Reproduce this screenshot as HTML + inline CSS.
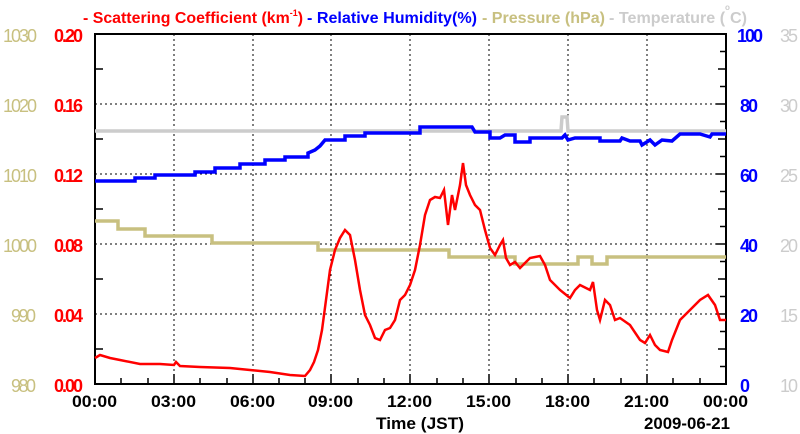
<!DOCTYPE html>
<html><head><meta charset="utf-8"><style>
body{margin:0;background:#fff;}
svg{display:block;font-family:"Liberation Sans",sans-serif;font-weight:bold;}
</style></head><body>
<svg width="800" height="434" viewBox="0 0 800 434" xmlns="http://www.w3.org/2000/svg">
<g stroke="#000" stroke-dasharray="2,3" stroke-width="1">
<line x1="174" y1="34" x2="174" y2="384"/><line x1="253" y1="34" x2="253" y2="384"/><line x1="331" y1="34" x2="331" y2="384"/><line x1="410" y1="34" x2="410" y2="384"/><line x1="489" y1="34" x2="489" y2="384"/><line x1="568" y1="34" x2="568" y2="384"/><line x1="647" y1="34" x2="647" y2="384"/>
<line x1="95" y1="104" x2="726" y2="104"/><line x1="95" y1="174" x2="726" y2="174"/><line x1="95" y1="244" x2="726" y2="244"/><line x1="95" y1="314" x2="726" y2="314"/>
</g>
<g stroke="#000" stroke-width="1.5" fill="none">
<path d="M95,69h8M95,139h8M95,209h8M95,279h8M95,349h8M726,69h-8M726,139h-8M726,209h-8M726,279h-8M726,349h-8"/>
<path d="M726,51.5h-6M726,86.5h-6M726,121.5h-6M726,156.5h-6M726,191.5h-6M726,226.5h-6M726,261.5h-6M726,296.5h-6M726,331.5h-6M726,366.5h-6M726,104h-10M726,174h-10M726,244h-10M726,314h-10"/>
<path d="M121,384v-6M148,384v-6M200,384v-6M227,384v-6M279,384v-6M305,384v-6M358,384v-6M384,384v-6M437,384v-6M463,384v-6M516,384v-6M542,384v-6M594,384v-6M621,384v-6M673,384v-6M700,384v-6M174,384v-10M253,384v-10M331,384v-10M410,384v-10M489,384v-10M568,384v-10M647,384v-10"/>
</g>
<rect x="95" y="34" width="631" height="350" fill="none" stroke="#000" stroke-width="2"/>
<polyline fill="none" stroke="#cccccc" stroke-width="3.5" points="95,131 561,131 562,117 567,117 568,131 726,131"/>
<polyline fill="none" stroke="#c8c080" stroke-width="3.5" points="95,221 118,221 118,229 145,229 145,236 212,236 212,243 318,243 318,250 449,250 449,257 515,257 515,264 578,264 578,257 592,257 592,264 607,264 607,257 726,257"/>
<polyline fill="none" stroke="#0000ff" stroke-width="3.5" points="95,181 135,181 135,178 155,178 155,175 195,175 195,172 215,172 215,168 240,168 240,164 265,164 265,160 285,160 285,157 308,157 308,153 315,150 320,146 325,140 345,140 345,136 365,136 365,133 420,133 420,127 472,127 475,132 490,132 490,138 500,138 505,135 515,135 515,142 530,142 530,138 562,138 565,135 568,140 575,138 600,138 600,141 620,141 622,138 630,141 640,141 642,145 650,140 655,145 662,140 672,141 680,134 700,134 710,137 712,134 726,134"/>
<polyline fill="none" stroke="#ff0000" stroke-width="2.5" points="95,358 100,355 110,358 120,360 140,364 160,364 174,365 176,362 180,366 200,367 230,368 250,370 270,372 290,375 305,376 310,370 314,362 318,350 322,330 326,300 330,270 335,250 340,238 345,230 350,235 355,260 360,290 365,315 370,325 375,338 380,340 385,330 390,328 395,320 400,300 405,295 410,285 415,270 420,245 425,215 430,200 435,197 440,198 444,190 448,225 452,195 455,210 460,185 463,163 466,185 470,195 475,205 480,210 485,230 490,248 495,255 500,245 503,240 506,258 510,265 515,262 520,268 530,258 540,256 545,265 550,280 560,290 570,298 575,290 580,285 590,290 593,282 597,310 600,320 605,300 610,305 615,320 620,318 630,325 640,340 645,343 650,335 655,345 660,350 668,352 672,340 680,320 690,310 700,300 708,295 715,305 720,320 726,320"/>
<g font-size="18" lengthAdjust="spacingAndGlyphs">
<g fill="#c8c080" font-weight="normal"><text x="3" y="42" textLength="34">1030</text><text x="3" y="112" textLength="34">1020</text><text x="3" y="182" textLength="34">1010</text><text x="3" y="252" textLength="34">1000</text><text x="11" y="322" textLength="25">990</text><text x="11" y="392" textLength="25">980</text></g>
<g fill="#ff0000"><text x="54" y="42" textLength="29">0.20</text><text x="54" y="112" textLength="29">0.16</text><text x="54" y="182" textLength="29">0.12</text><text x="54" y="252" textLength="29">0.08</text><text x="54" y="322" textLength="29">0.04</text><text x="54" y="392" textLength="29">0.00</text></g>
<g fill="#0000ff"><text x="737" y="42" textLength="26">100</text><text x="740" y="112" textLength="18">80</text><text x="740" y="182" textLength="18">60</text><text x="740" y="252" textLength="18">40</text><text x="740" y="322" textLength="18">20</text><text x="740" y="392" textLength="9">0</text></g>
<g fill="#cccccc" font-weight="normal"><text x="780" y="42" textLength="18">35</text><text x="780" y="112" textLength="18">30</text><text x="780" y="182" textLength="18">25</text><text x="780" y="252" textLength="18">20</text><text x="780" y="322" textLength="18">15</text><text x="780" y="392" textLength="18">10</text></g>
</g>
<g font-size="17" fill="#000">
<text x="72" y="407" textLength="45" lengthAdjust="spacingAndGlyphs">00:00</text>
<text x="151" y="407" textLength="45" lengthAdjust="spacingAndGlyphs">03:00</text>
<text x="230" y="407" textLength="45" lengthAdjust="spacingAndGlyphs">06:00</text>
<text x="308" y="407" textLength="45" lengthAdjust="spacingAndGlyphs">09:00</text>
<text x="387" y="407" textLength="45" lengthAdjust="spacingAndGlyphs">12:00</text>
<text x="466" y="407" textLength="45" lengthAdjust="spacingAndGlyphs">15:00</text>
<text x="545" y="407" textLength="45" lengthAdjust="spacingAndGlyphs">18:00</text>
<text x="624" y="407" textLength="45" lengthAdjust="spacingAndGlyphs">21:00</text>
<text x="703" y="407" textLength="45" lengthAdjust="spacingAndGlyphs">00:00</text>
<text x="376" y="429" textLength="88" lengthAdjust="spacingAndGlyphs">Time (JST)</text>
<text x="644" y="429" textLength="86" lengthAdjust="spacingAndGlyphs">2009-06-21</text>
</g>
<g font-size="16">
<text x="83" y="23" fill="#ff0000" textLength="220" lengthAdjust="spacingAndGlyphs">- Scattering Coefficient (km<tspan font-size="9" dy="-7">-1</tspan><tspan dy="7">)</tspan></text>
<text x="307" y="23" fill="#0000ff" textLength="170" lengthAdjust="spacingAndGlyphs">- Relative Humidity(%)</text>
<text x="482" y="23" fill="#c8c080" textLength="123" lengthAdjust="spacingAndGlyphs">- Pressure (hPa)</text>
<text x="609" y="23" fill="#cccccc" textLength="138" lengthAdjust="spacingAndGlyphs">- Temperature (<tspan font-size="8" dy="-13">o</tspan><tspan dy="13">C)</tspan></text>
</g>
</svg>
</body></html>
